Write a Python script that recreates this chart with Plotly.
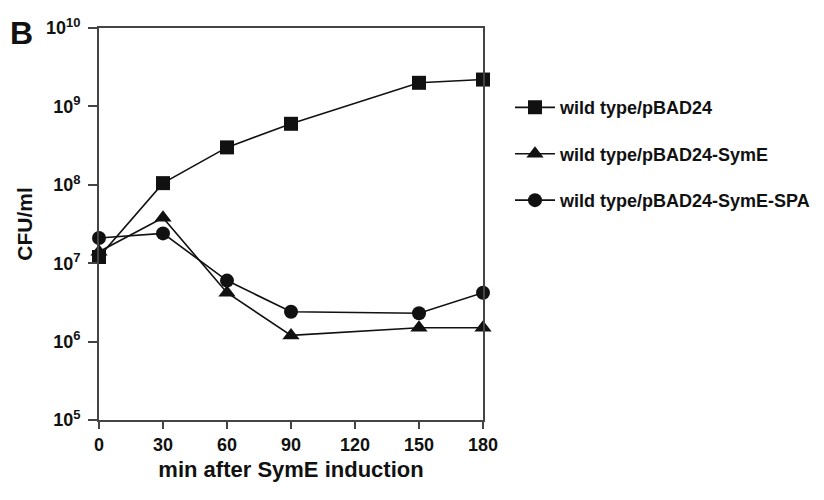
import plotly.graph_objects as go

minutes = [0, 30, 60, 90, 150, 180]
wt_pbad24 = [1.2e7, 1.05e8, 3.0e8, 6.0e8, 2.0e9, 2.2e9]
wt_syme = [1.4e7, 3.8e7, 4.2e6, 1.2e6, 1.5e6, 1.5e6]
wt_syme_spa = [2.1e7, 2.4e7, 6.0e6, 2.4e6, 2.3e6, 4.2e6]
names = ["wild type/pBAD24", "wild type/pBAD24-SymE", "wild type/pBAD24-SymE-SPA"]
symbols = ["square", "triangle-up", "circle"]
x_ticks = [0, 30, 60, 90, 120, 150, 180]
y_ticks = [1e5, 1e6, 1e7, 1e8, 1e9, 1e10]
y_exps = ["5", "6", "7", "8", "9", "10"]
y_tick_text = ["10<sup><span style='font-size:13px'>%s</span></sup>" % e for e in y_exps]

fig = go.Figure()
for i, (ys, nm, sym) in enumerate(zip([wt_pbad24, wt_syme, wt_syme_spa], names, symbols)):
    fig.add_trace(go.Scatter(
        x=minutes, y=ys, name=nm, mode="lines+markers",
        line=dict(color="#111111", width=1.6),
        marker=dict(symbol=sym, size=14 if sym != "triangle-up" else 15, color="#111111"),
        cliponaxis=False, legendgroup=str(i),
    ))

W, H = 808, 484
L, T, B_, R = 91, 20, 72, 0
plot_w = 384
paper_w = W - L - R
font_family = "Liberation Sans, Arial, sans-serif"
fig.update_layout(
    width=W, height=H,
    margin=dict(l=L, r=R, t=T, b=B_),
    paper_bgcolor="white", plot_bgcolor="white",
    font=dict(family=font_family, size=14, color="#111111"),
    showlegend=True,
    legend=dict(x=1, y=0.844, xanchor="right", yanchor="top",
                font=dict(size=18, family=font_family, weight="bold"),
                itemwidth=40,
                traceorder="grouped", tracegroupgap=20,
                bgcolor="rgba(0,0,0,0)"),
    xaxis=dict(domain=[0, plot_w / paper_w],
               range=[0, 180], tickvals=x_ticks, ticks="outside", ticklen=7,
               tickwidth=2, tickcolor="#444", showline=True, linecolor="#444",
               linewidth=2, mirror=True, showgrid=False, zeroline=False,
               automargin=False,
               tickfont=dict(size=18, weight="bold"),
               title=dict(text="min after SymE induction", standoff=8,
                          font=dict(size=22, weight="bold"))),
    yaxis=dict(type="log", range=[5, 10], tickvals=y_ticks, ticktext=y_tick_text,
               ticks="outside", ticklen=9, tickwidth=2, tickcolor="#444",
               ticklabelstandoff=4,
               showline=True, linecolor="#444", linewidth=2, mirror=True,
               showgrid=False, zeroline=False, automargin=False,
               tickfont=dict(size=18, weight="bold"),
               title=dict(text="CFU/ml", standoff=8,
                          font=dict(size=21, weight="bold"))),
)
fig.add_annotation(text="B", xref="paper", yref="paper", x=-L / paper_w, y=0.986,
                   xanchor="left", yanchor="middle", showarrow=False,
                   font=dict(size=32, weight="bold", family=font_family))
fig.write_html("out.html")
